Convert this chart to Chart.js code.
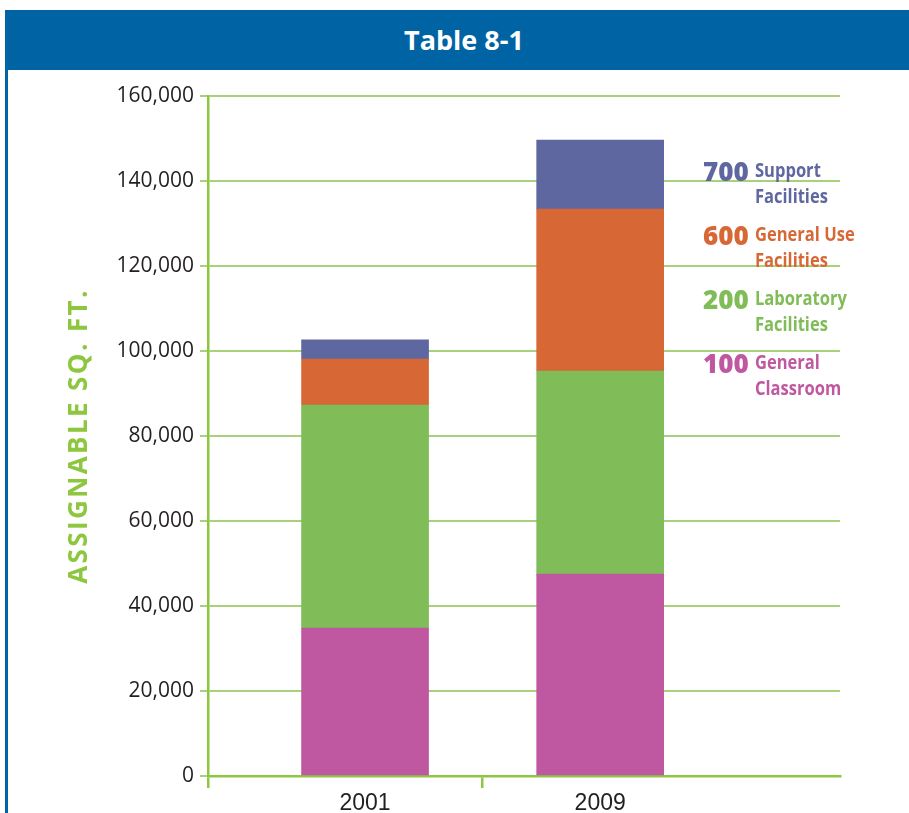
<!DOCTYPE html>
<html>
<head>
<meta charset="utf-8">
<script src="https://cdn.jsdelivr.net/npm/chart.js@4.4.1/dist/chart.umd.min.js"></script>
<style>
  body { margin: 0; background: #fff; width: 909px; height: 813px; overflow: hidden; position: relative; }
  #header {
    position: absolute; left: 5px; top: 10px; width: 904px; height: 60px;
    background: #0063a3; color: #fff; text-align: center;
    font: bold 27px "Open Sans", sans-serif; line-height: 60px; padding-left: 14px; box-sizing: border-box;
  }
  #leftLine { position: absolute; left: 5px; top: 70px; width: 3px; height: 743px; background: #0063a3; }
  #wrap { position: absolute; left: 0; top: 70px; width: 909px; height: 743px; }
  #legend { position: absolute; left: 703px; top: 157px; }
  .item { display: flex; height: 64px; }
  .code { width: 52px; font: 900 26px "Open Sans", sans-serif; line-height: 28px; }
  .name { font: bold 19px "Open Sans", sans-serif; line-height: 26px; transform: scaleX(0.87); transform-origin: left top; white-space: nowrap; }
</style>
</head>
<body>
<div id="header">Table 8-1</div>
<div id="leftLine"></div>
<div id="wrap"><canvas id="chart" width="909" height="743"></canvas></div>
<div id="legend"></div>
<script>
// Assignable square feet by room category
const years = ["2001", "2009"];
const classroom = [34800, 47500];   // 100 General Classroom
const laboratory = [52500, 47800];  // 200 Laboratory Facilities
const generalUse = [10800, 38100];  // 600 General Use Facilities
const support = [4500, 16200];      // 700 Support Facilities
const yTicks = [0, 20000, 40000, 60000, 80000, 100000, 120000, 140000, 160000];

const codes = ["100", "200", "600", "700"];
const names = [["General", "Classroom"], ["Laboratory", "Facilities"], ["General Use", "Facilities"], ["Support", "Facilities"]];
const colors = ["#bf58a1", "#80bc57", "#d76836", "#5f67a0"];

const green = "#8dc63f";
const lightGreen = "#a9d07a";
const xMin = 0.332;
const xMax = 3.02;

const series = [classroom, laboratory, generalUse, support];

const datasets = series.map((vals, k) => ({
  label: codes[k] + " " + names[k].join(" "),
  data: vals.map((v, i) => ({ x: i + 1, y: v })),
  backgroundColor: colors[k],
  borderWidth: 0,
  barThickness: 127,
}));

// legend on the right, top item is 700
const legend = document.getElementById("legend");
for (let k = codes.length - 1; k >= 0; k--) {
  const item = document.createElement("div");
  item.className = "item";
  item.style.color = colors[k];
  item.innerHTML = '<div class="code">' + codes[k] + '</div><div class="name">' +
    names[k].join("<br>") + "</div>";
  legend.appendChild(item);
}

// spaced-out letters for the y title
const spacedTitle = {
  id: "spacedTitle",
  beforeDraw(chart) {
    const s = chart.scales.y;
    if (s._spaced) return;
    const orig = s.drawTitle.bind(s);
    s.drawTitle = function () {
      chart.ctx.save();
      chart.ctx.letterSpacing = "2.4px";
      orig();
      chart.ctx.restore();
    };
    s._spaced = true;
  },
};

new Chart(document.getElementById("chart").getContext("2d"), {
  type: "bar",
  data: { datasets: datasets },
  plugins: [spacedTitle],
  options: {
    responsive: false,
    animation: false,
    layout: { padding: { left: 0, right: 69, top: 26, bottom: 0 } },
    plugins: { legend: { display: false }, tooltip: { enabled: false } },
    scales: {
      x: {
        type: "linear",
        stacked: true,
        offset: false,
        min: xMin,
        max: xMax,
        afterBuildTicks: (scale) => {
          scale.ticks = [{ value: xMin }, { value: 1 }, { value: 1.5 }, { value: 2 }];
        },
        afterFit: (scale) => { scale.height = 37; },
        border: { color: green, width: 2.5 },
        grid: {
          offset: false,
          drawOnChartArea: false,
          tickLength: 12,
          lineWidth: 2.5,
          color: (ctx) => (ctx.tick && (ctx.tick.value === 1.5 || ctx.tick.value === xMin) ? green : "transparent"),
        },
        ticks: {
          autoSkip: false,
          maxRotation: 0,
          padding: 2,
          color: "#231f20",
          font: { family: "Liberation Sans, Arial, sans-serif", size: 23 },
          callback: (v) => (Number.isInteger(v) ? years[v - 1] : ""),
        },
      },
      y: {
        stacked: true,
        min: yTicks[0],
        max: yTicks[yTicks.length - 1],
        afterBuildTicks: (scale) => {
          scale.ticks = yTicks.map((v) => ({ value: v }));
        },
        afterFit: (scale) => { scale.width = 208; },
        border: { color: green, width: 2.5 },
        grid: { color: lightGreen, lineWidth: 2, tickLength: 8 },
        ticks: {
          padding: 6,
          color: "#231f20",
          font: { family: "Open Sans, sans-serif", size: 21 },
          callback: (v) => v.toLocaleString("en-US"),
        },
        title: {
          display: true,
          text: "ASSIGNABLE SQ. FT.",
          color: green,
          padding: { top: 64, bottom: 0 },
          font: { family: "Open Sans, sans-serif", size: 26, weight: "bold" },
        },
      },
    },
  },
});
</script>
</body>
</html>
